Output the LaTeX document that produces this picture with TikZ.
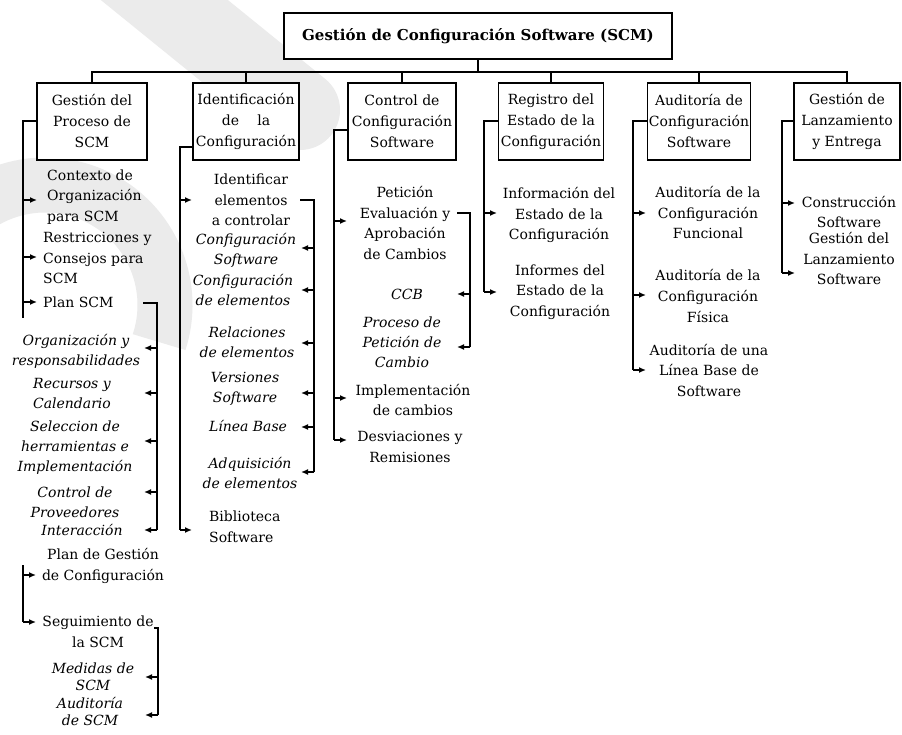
\documentclass[tikz,border=0pt]{standalone}
\usepackage{fontspec}
\setmainfont{DejaVu Serif}
\usetikzlibrary{arrows.meta}
\begin{document}
\begin{tikzpicture}[x=1pt,y=-1pt,
  wm/.style={draw=black!8},
  ln/.style={draw=black, line width=1.4pt},
  arr/.style={ln, -{Latex[length=7pt,width=6pt]}},
  box/.style={draw=black, line width=1.7pt, fill=white, align=center, inner sep=0pt,
    minimum height=77pt, font=\fontsize{14}{21}\selectfont},
  txt/.style={align=center, inner sep=0pt, font=\fontsize{14}{20.5}\selectfont},
  itx/.style={txt, font=\fontsize{14}{20}\selectfont\itshape},
  itt/.style={txt, font=\fontsize{14}{17}\selectfont\itshape}]
\useasboundingbox (0,0) rectangle (902,735);
\fill[white] (0,0) rectangle (902,735);

% faint logo in the background
\draw[wm, line width=80pt, line cap=round] (115,-40) -- (300,110);
\draw[wm, line width=55pt] (45,305) ++(120:120) arc[start angle=120, end angle=378, radius=120];

% root and the six process areas
\node[box, minimum width=388pt, minimum height=46pt, font=\fontsize{15}{18}\selectfont\bfseries]
  (root) at (478,36) {Gestión de Configuración Software (SCM)};
\node[box, minimum width=110pt] (g1) at (92,121.5) {Gestión del\\Proceso de\\SCM};
\node[box, minimum width=106pt] (g2) at (246,121.5) {Identificación\\de\hspace{1.3em}la\\Configuración};
\node[box, minimum width=108pt] (g3) at (402,121.5) {Control de\\Configuración\\Software};
\node[box, minimum width=105pt] (g4) at (551,121.5) {Registro del\\Estado de la\\Configuración};
\node[box, minimum width=103pt] (g5) at (699,121.5) {Auditoría de\\Configuración\\Software};
\node[box, minimum width=106pt] (g6) at (847,121.5) {Gestión de\\Lanzamiento\\y Entrega};

\coordinate (bus) at (478,72);
\draw[ln] (root.south) -- (bus);
\draw[ln] (g1.north) -- (g1.north |- bus) -- (g6.north |- bus) -- (g6.north);
\foreach \g in {g2,g3,g4,g5} \draw[ln] (\g.north) -- (\g.north |- bus);

% ---------- column 1
\node[txt, anchor=west, align=left] (c11) at (47,197) {Contexto de\\Organización\\para SCM};
\node[txt, anchor=west, align=left] (c12) at (43,258) {Restricciones y\\Consejos para\\SCM};
\node[txt, anchor=west] (c13) at (43,302) {Plan SCM};
\node[itx] (c14) at (76,351) {Organización y\\responsabilidades};
\node[itx] (c15) at (72,393) {Recursos y\\Calendario};
\node[itx] (c16) at (75,448) {Seleccion de\\herramientas e\\Implementación};
\node[itx] (c17) at (75,502) {Control de\\Proveedores};
\node[itx] (c18) at (82,530) {Interacción};
\node[txt] (c19) at (103,566) {Plan de Gestión\\de Configuración};
\node[txt] (c110) at (98,632) {Seguimiento de\\la SCM};
\node[itt] (c111) at (93,677) {Medidas de\\SCM};
\node[itt] (c112) at (90,711) {Auditoría\\de SCM};

\coordinate (a1) at (23,121); \coordinate (a1e) at (23,318);
\draw[ln] (g1.west |- a1) -- (a1) -- (a1e);
\coordinate (k11) at (37,200); \coordinate (k12) at (37,257); \coordinate (k13) at (37,302);
\foreach \k in {k11,k12,k13} \draw[arr] (a1 |- \k) -- (\k);

\coordinate (p1s) at (143,303); \coordinate (p1c) at (157,303); \coordinate (p1e) at (157,530);
\draw[ln] (p1s) -- (p1c) -- (p1e);
\coordinate (k14) at (144,348); \coordinate (k15) at (144,393); \coordinate (k16) at (144,441);
\coordinate (k17) at (144,492); \coordinate (k18) at (144,530);
\foreach \k in {k14,k15,k16,k17,k18} \draw[arr] (p1c |- \k) -- (\k);

\coordinate (b1t) at (23,565); \coordinate (b1b) at (23,622);
\draw[ln] (b1t) -- (b1b);
\coordinate (k19) at (36,575); \coordinate (k110) at (36,622);
\foreach \k in {k19,k110} \draw[arr] (b1t |- \k) -- (\k);

\coordinate (s1s) at (154,628); \coordinate (s1c) at (158,628); \coordinate (s1e) at (158,715);
\draw[ln] (s1s) -- (s1c) -- (s1e);
\coordinate (k111) at (145,677); \coordinate (k112) at (145,715);
\foreach \k in {k111,k112} \draw[arr] (s1c |- \k) -- (\k);

% ---------- column 2
\node[txt] (c21) at (251,200) {Identificar\\elementos\\a controlar};
\node[itx] (c22) at (246,250) {Configuración\\Software};
\node[itx] (c23) at (243,290) {Configuración\\de elementos};
\node[itx] (c24) at (247,342) {Relaciones\\de elementos};
\node[itx] (c25) at (245,389) {Versiones\\Software};
\node[itx] (c26) at (248,426) {Línea Base};
\node[itx] (c27) at (250,473) {Adquisición\\de elementos};
\node[txt, anchor=west, align=left] (c28) at (209,527) {Biblioteca\\Software};

\coordinate (a2) at (180,147); \coordinate (a2e) at (180,530);
\draw[ln] (g2.west |- a2) -- (a2) -- (a2e);
\coordinate (k21) at (192,200); \coordinate (k28) at (192,530);
\foreach \k in {k21,k28} \draw[arr] (a2 |- \k) -- (\k);

\coordinate (p2s) at (300,200); \coordinate (p2c) at (314,200); \coordinate (p2e) at (314,472);
\draw[ln] (p2s) -- (p2c) -- (p2e);
\coordinate (k22) at (301,248); \coordinate (k23) at (301,290); \coordinate (k24) at (301,343);
\coordinate (k25) at (301,393); \coordinate (k26) at (301,427); \coordinate (k27) at (301,472);
\foreach \k in {k22,k23,k24,k25,k26,k27} \draw[arr] (p2c |- \k) -- (\k);

% ---------- column 3
\node[txt] (c31) at (405,223) {Petición\\Evaluación y\\Aprobación\\de Cambios};
\node[itx] (c32) at (407,294) {CCB};
\node[itx] (c33) at (402,342) {Proceso de\\Petición de\\Cambio};
\node[txt] (c34) at (413,400) {Implementación\\de cambios};
\node[txt] (c35) at (410,447) {Desviaciones y\\Remisiones};

\coordinate (a3) at (334,130); \coordinate (a3e) at (334,440);
\draw[ln] (g3.west |- a3) -- (a3) -- (a3e);
\coordinate (k31) at (347,221); \coordinate (k34) at (347,398); \coordinate (k35) at (347,440);
\foreach \k in {k31,k34,k35} \draw[arr] (a3 |- \k) -- (\k);

\coordinate (p3s) at (457,213); \coordinate (p3c) at (470,213); \coordinate (p3e) at (470,347);
\draw[ln] (p3s) -- (p3c) -- (p3e);
\coordinate (k32) at (457,294); \coordinate (k33) at (457,347);
\foreach \k in {k32,k33} \draw[arr] (p3c |- \k) -- (\k);

% ---------- column 4
\node[txt] (c41) at (559,215) {Información del\\Estado de la\\Configuración};
\node[txt] (c42) at (560,292) {Informes del\\Estado de la\\Configuración};
\coordinate (a4) at (484,121); \coordinate (a4e) at (484,292);
\draw[ln] (g4.west |- a4) -- (a4) -- (a4e);
\coordinate (k41) at (497,213); \coordinate (k42) at (497,292);
\foreach \k in {k41,k42} \draw[arr] (a4 |- \k) -- (\k);

% ---------- column 5
\node[txt] (c51) at (708,213) {Auditoría de la\\Configuración\\Funcional};
\node[txt] (c52) at (708,296) {Auditoría de la\\Configuración\\Física};
\node[txt] (c53) at (709,370) {Auditoría de una\\Línea Base de\\Software};
\coordinate (a5) at (633,121); \coordinate (a5e) at (633,370);
\draw[ln] (g5.west |- a5) -- (a5) -- (a5e);
\coordinate (k51) at (646,213); \coordinate (k52) at (646,295); \coordinate (k53) at (646,370);
\foreach \k in {k51,k52,k53} \draw[arr] (a5 |- \k) -- (\k);

% ---------- column 6
\node[txt] (c61) at (849,212) {Construcción\\Software};
\node[txt] (c62) at (849,259) {Gestión del\\Lanzamiento\\Software};
\coordinate (a6) at (782,121); \coordinate (a6e) at (782,273);
\draw[ln] (g6.west |- a6) -- (a6) -- (a6e);
\coordinate (k61) at (795,203); \coordinate (k62) at (795,273);
\foreach \k in {k61,k62} \draw[arr] (a6 |- \k) -- (\k);
\end{tikzpicture}
\end{document}
